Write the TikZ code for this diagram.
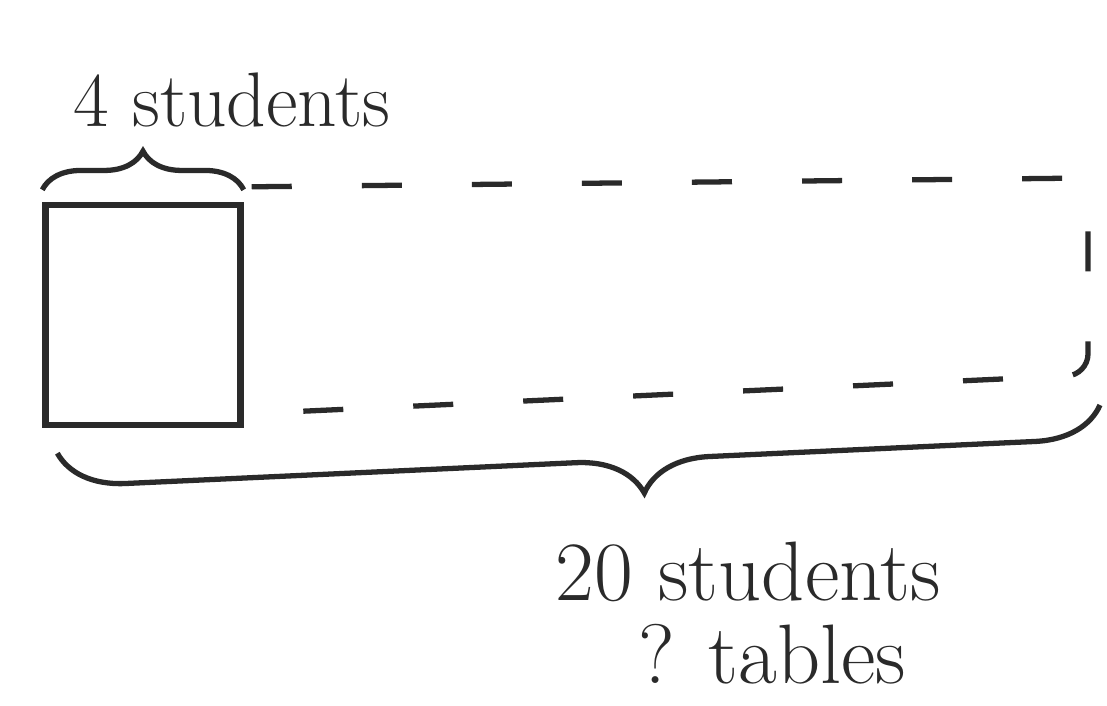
\documentclass[tikz,border=0pt]{standalone}
\usepackage{xcolor}
\usetikzlibrary{decorations.pathreplacing,calc}
\definecolor{ink}{HTML}{2A2A2A}
\tikzset{
  tablebox/.style={draw=ink,line width=1.8pt,minimum width=1.95cm,
                   minimum height=2.2cm,inner sep=0pt},
  dashedge/.style={draw=ink,line width=1.5pt,dash pattern=on 0.4cm off 0.7cm,
                   rounded corners=6pt},
  sbrace/.style={decorate,decoration={brace,amplitude=#1},
                 line width=1.5pt,draw=ink},
  hand/.style={font=\fontsize{22}{26}\selectfont,text=ink,inner sep=1pt}
}
\begin{document}
\begin{tikzpicture}[x=0.01cm,y=-0.01cm]
    \useasboundingbox[fill=white] (0,0) rectangle (1107,705);
    % one table
    \node[tablebox] (table) at (143,315) {};
    \node[hand] (four) at (232,100) {4 students};
    \draw[sbrace=11pt] ($(table.north west)+(0,-12)$) -- ($(table.north east)+(0,-12)$);
    % the other tables
    \coordinate (tr) at (1088,178);
    \coordinate (br) at (1088,375);
    \draw[dashedge] ($(table.north east)+(8,-15)$) -- (tr) -- (br)
      -- ($(table.south east)+(15,-15)$);
    % all the tables
    \draw[sbrace=19pt,decoration={aspect=0.44}]
      (1100,405) -- ($(table.south west)+(15,25)$);
    \node[hand,font=\fontsize{24}{28}\selectfont] (twenty) at (748,572) {20 students};
    \node[hand,font=\fontsize{24}{28}\selectfont] (tables) at (772,654) {? tables};
\end{tikzpicture}
\end{document}
